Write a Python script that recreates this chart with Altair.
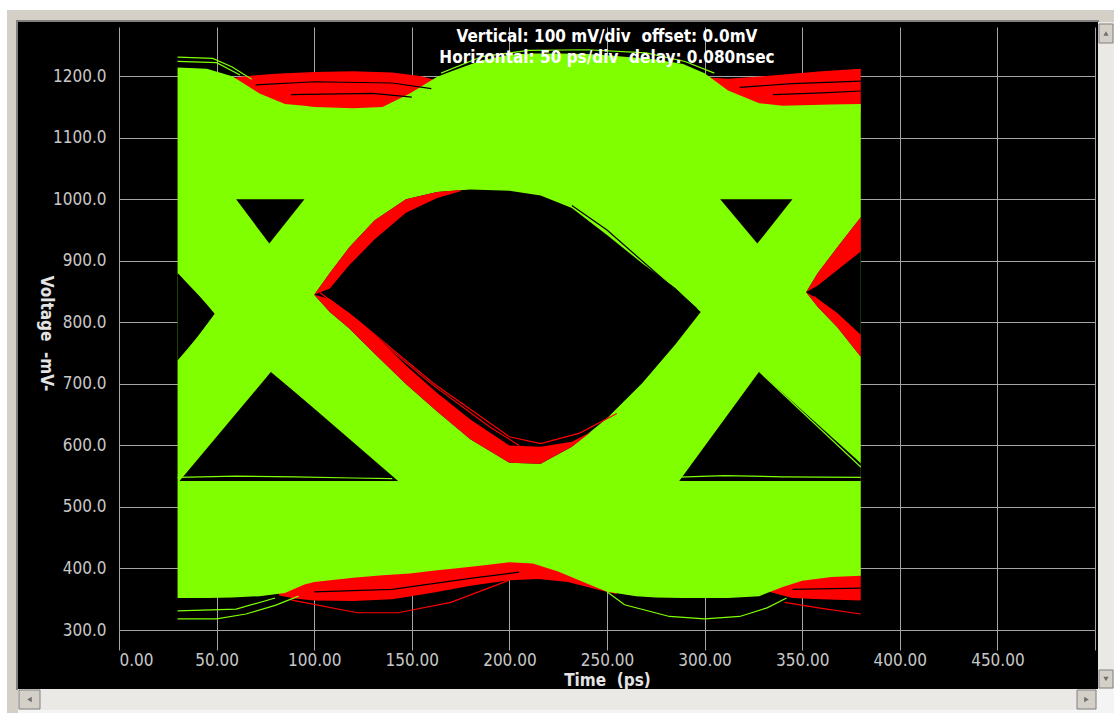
import altair as alt
import pandas as pd

# ---------------------------------------------------------------- scales
X_DOMAIN = [0, 500]
Y_DOMAIN = [300, 1280]
X_TICKS = list(range(0, 501, 50))
Y_TICKS = list(range(300, 1201, 100))

PLOT_W, PLOT_H = 976, 603
ORIGIN_X, ORIGIN_Y = 119, 27          # top-left corner of the plot area on the canvas

GREEN = "#80ff00"
RED = "#ff0000"
BLACK = "#000000"
GRID = "#a4a4a4"
LABEL = "#c8c8c8"
FONT = "Liberation Sans Narrow, DejaVu Sans Condensed, sans-serif"
NB = "\u00a0"                          # keeps double spaces from collapsing

# ---------------------------------------------------------------- eye data (ps, mV)
# envelope covered by the bulk of the acquired traces
env_x   = [30, 45, 58, 72, 85, 95, 100, 120, 135, 149, 163, 172, 186, 200, 212, 225,
           240, 250, 265, 275, 289, 300, 312, 328, 340, 350, 365, 380]
env_top = [1214, 1212, 1200, 1172, 1155, 1152, 1150, 1148, 1150, 1172, 1199, 1210, 1226,
           1235, 1237, 1237, 1236, 1234, 1230, 1227, 1220, 1205, 1177, 1156, 1152, 1153,
           1154, 1155]
env_bot = [352, 352, 353, 355, 360, 374, 378, 385, 389, 392, 397, 400, 405, 410, 408, 395,
           375, 362, 355, 353, 352, 352, 352, 355, 370, 380, 386, 388]

# failing traces that overshoot the one level / undershoot the zero level
red_tl_x = [55, 65, 80, 100, 120, 140, 155, 168]
red_tl_y = [1196, 1200, 1204, 1207, 1208, 1206, 1200, 1188]
red_tr_x = [302, 312, 330, 345, 360, 380]
red_tr_y = [1198, 1196, 1200, 1204, 1208, 1212]
red_bl_x = [82, 90, 100, 120, 140, 160, 180, 200, 215, 230, 245, 255]
red_bl_y = [356, 351, 348, 347, 350, 360, 372, 381, 383, 378, 366, 358]
red_br_x = [333, 345, 360, 380]
red_br_y = [362, 352, 350, 348]

# eye openings
main_x   = [100, 108, 118, 131, 147, 163, 180, 200, 216, 232, 250, 268, 285, 298]
main_top = [845, 880, 922, 966, 1000, 1012, 1016, 1014, 1006, 986, 942, 896, 856, 817]
main_bot = [845, 817, 790, 749, 700, 655, 610, 572, 570, 598, 644, 701, 764, 817]

left_x   = [30, 40, 49]
left_top = [880, 848, 814]
left_bot = [738, 775, 814]

right_x   = [352, 358, 368, 380]
right_top = [849, 880, 922, 971]
right_bot = [849, 825, 792, 744]

tri_hi_l_x = [60, 77, 95]
tri_hi_r_x = [308, 327, 345]
tri_hi_top = [1000, 1000, 1000]
tri_hi_bot = [1000, 928, 1000]

tri_lo_l_x = [31, 78, 143]
tri_lo_r_x = [287, 328, 380]
tri_lo_l_top = [542, 720, 542]
tri_lo_r_top = [542, 720, 571]

# red edge bands inside the openings
band_ul_x  = [100, 108, 118, 131, 147, 163, 175]
band_ul_hi = [845, 880, 922, 966, 1000, 1012, 1015]
band_ul_lo = [845, 855, 893, 935, 978, 1002, 1013]

band_ll_x  = [100, 108, 118, 131, 147, 163, 180, 200, 216, 232, 242]
band_ll_lo = [845, 817, 790, 749, 700, 655, 610, 572, 570, 598, 622]
band_ll_hi = [845, 838, 815, 780, 730, 685, 642, 600, 598, 606, 622]

band_ru_x  = [352, 358, 368, 380]
band_ru_hi = [849, 880, 922, 971]
band_ru_lo = [849, 860, 885, 915]
band_rl_x  = [352, 358, 368, 380]
band_rl_lo = [849, 825, 792, 744]
band_rl_hi = [849, 838, 815, 780]

# individual traces
red_traces = {
    "r1": ([103, 122, 161, 200, 216, 236, 255], [848, 804, 701, 614, 603, 620, 652]),
    "r2": ([88, 122, 143, 170, 200], [349, 328, 328, 345, 381]),
    "r3": ([341, 360, 380], [345, 335, 326]),
    "r4": ([108, 130, 160, 190, 205], [832, 780, 700, 630, 600]),
    "r5": ([356, 368, 380], [842, 812, 770]),
}
green_traces = {
    "g1": ([30, 48, 58, 68], [1231, 1229, 1215, 1195]),
    "g2": ([30, 50, 62], [1224, 1222, 1202]),
    "g3": ([165, 186, 210, 240, 270, 290, 305], [1205, 1232, 1242, 1243, 1238, 1224, 1205]),
    "g4": ([30, 50, 65, 80, 92], [318, 318, 326, 340, 355]),
    "g5": ([30, 60, 80], [331, 334, 352]),
    "g6": ([250, 259, 282, 300, 318, 332, 342], [362, 341, 322, 318, 322, 336, 352]),
    "g7": ([150, 170, 190, 216, 232], [1018, 1021, 1022, 1014, 994]),
    "g8": ([78, 143], [720, 549]),
    "g9": ([328, 380], [720, 565]),
    "g10": ([30, 60, 90, 120, 140], [548, 550, 549, 547, 546]),
    "g11": ([283, 310, 340, 380], [548, 551, 549, 548]),
    "g12": ([58, 77, 97], [1004, 1006, 1004]),
    "g13": ([306, 327, 347], [1004, 1006, 1004]),
    "g14": ([33, 49], [872, 818]),
    "g15": ([33, 49], [746, 810]),
}
black_traces = {
    "k1": ([70, 100, 140, 160], [1186, 1191, 1189, 1180]),
    "k2": ([88, 130, 150], [1170, 1172, 1166]),
    "k3": ([318, 345, 380], [1182, 1188, 1192]),
    "k4": ([335, 360, 380], [1170, 1173, 1176]),
    "k5": ([100, 140, 180, 205], [362, 366, 384, 394]),
    "k6": ([345, 380], [366, 368]),
    "k7": ([36, 78], [552, 717]),
    "k8": ([78, 138], [716, 552]),
    "k9": ([290, 328], [552, 716]),
    "k10": ([328, 378], [716, 575]),
    "k11": ([64, 77, 91], [995, 936, 995]),
    "k12": ([312, 327, 341], [995, 936, 995]),
    "k13": ([296, 250, 232], [822, 950, 990]),
    "k14": ([30, 47], [876, 819]),
}

# ---------------------------------------------------------------- helpers
def band_frame(parts):
    rows = []
    for name, xs, los, his in parts:
        for x, lo, hi in zip(xs, los, his):
            rows.append({"part": name, "x": x, "lo": lo, "hi": hi})
    return pd.DataFrame(rows)


def trace_frame(traces):
    rows = []
    for name, (xs, ys) in traces.items():
        for i, (x, y) in enumerate(zip(xs, ys)):
            rows.append({"trace": name, "i": i, "x": x, "y": y})
    return pd.DataFrame(rows)


x_enc = alt.X("x:Q", scale=alt.Scale(domain=X_DOMAIN, nice=False, zero=False),
              axis=alt.Axis(values=X_TICKS, grid=True, gridColor=GRID, gridWidth=1,
                            tickColor=GRID, tickSize=20, tickWidth=1, domain=False,
                            labelExpr="datum.value >= 500 ? '' : format(datum.value, '.2f')",
                            labelColor=LABEL, labelFont=FONT, labelFontSize=17,
                            labelPadding=2, title=f"Time {NB}(ps)", titleColor="#e4e4e4",
                            titleFont=FONT, titleFontSize=17, titleFontWeight="bold",
                            titleX=PLOT_W / 2, titleY=50, titleBaseline="middle"))
y_scale = alt.Scale(domain=Y_DOMAIN, nice=False, zero=False)
y_axis = alt.Axis(values=Y_TICKS, grid=True, gridColor=GRID, gridWidth=1, ticks=False,
                  domain=False, format=".1f", labelColor=LABEL, labelFont=FONT,
                  labelFontSize=17, labelPadding=13, title=f"Voltage {NB}-mV-",
                  titleColor="#e4e4e4", titleFont=FONT, titleFontSize=17,
                  titleFontWeight="bold", titleAngle=90, titleX=-74, titleY=306,
                  titleAlign="center", titleBaseline="middle")


def area_layer(df, color, with_axes=False):
    enc_x = x_enc if with_axes else alt.X("x:Q")
    enc_y = alt.Y("lo:Q", scale=y_scale, axis=y_axis) if with_axes else alt.Y("lo:Q")
    return alt.Chart(df).mark_area(color=color, opacity=1, orient="vertical",
                                   interpolate="linear").encode(
        x=enc_x, y=enc_y, y2="hi:Q", detail="part:N")


def line_layer(df, color, width=1.0):
    return alt.Chart(df).mark_line(color=color, strokeWidth=width).encode(
        x="x:Q", y="y:Q", detail="trace:N", order="i:Q")


red_outer = band_frame([
    ("tl", red_tl_x, [1140] * len(red_tl_x), red_tl_y),
    ("tr", red_tr_x, [1140] * len(red_tr_x), red_tr_y),
    ("bl", red_bl_x, red_bl_y, [420] * len(red_bl_x)),
    ("br", red_br_x, red_br_y, [400] * len(red_br_x)),
])
green_env = band_frame([("env", env_x, env_bot, env_top)])
holes = band_frame([
    ("main", main_x, main_bot, main_top),
    ("left", left_x, left_bot, left_top),
    ("right", right_x, right_bot, right_top),
    ("thl", tri_hi_l_x, tri_hi_bot, tri_hi_top),
    ("thr", tri_hi_r_x, tri_hi_bot, tri_hi_top),
    ("tll", tri_lo_l_x, [542] * 3, tri_lo_l_top),
    ("tlr", tri_lo_r_x, [542] * 3, tri_lo_r_top),
])
red_inner = band_frame([
    ("ul", band_ul_x, band_ul_lo, band_ul_hi),
    ("ll", band_ll_x, band_ll_lo, band_ll_hi),
    ("ru", band_ru_x, band_ru_lo, band_ru_hi),
    ("rl", band_rl_x, band_rl_lo, band_rl_hi),
])

layers = [
    area_layer(red_outer, RED, with_axes=True),
    area_layer(green_env, GREEN),
    area_layer(holes, BLACK),
    area_layer(red_inner, RED),
    line_layer(trace_frame(black_traces), BLACK, 1.2),
    line_layer(trace_frame(red_traces), RED, 1.2),
    line_layer(trace_frame(green_traces), GREEN, 1.2),
]

# ---------------------------------------------------------------- header text
one = pd.DataFrame({"k": [0]})
header = [(f"Vertical: 100 mV/div {NB}offset: 0.0mV", 37),
          (f"Horizontal: 50 ps/div {NB}delay: 0.080nsec", 58)]
for text, cy in header:
    layers.append(alt.Chart(one).mark_text(
        text=text, color="#ffffff", font=FONT, fontSize=17, fontWeight="bold",
        align="center", baseline="middle").encode(
        x=alt.value(607 - ORIGIN_X), y=alt.value(cy - ORIGIN_Y)))

# ---------------------------------------------------------------- window chrome (canvas px)
chrome = [
    (0, 0, 1114, 10, "#ffffff", None),
    (0, 0, 7, 713, "#ffffff", None),
    (7, 10, 1114, 22, "#d4d0c8", None),
    (7, 10, 18, 713, "#d4d0c8", None),
    (16, 20, 1099, 22, "#808080", None),
    (16, 20, 18, 690, "#808080", None),
    (18, 689, 1097, 710, "#ebe9e5", None),
    (18, 710, 1114, 713, "#f4f4f4", None),
    (1098, 22, 1114, 689, "#ebe9e5", None),
    (1097, 689, 1114, 713, "#f4f4f4", None),
    (19, 690, 40, 709, "#d4d0c8", "#808080"),
    (1077, 690, 1096, 709, "#d4d0c8", "#808080"),
    (1099, 24, 1113, 43, "#d4d0c8", "#808080"),
    (1099, 670, 1113, 688, "#d4d0c8", "#808080"),
]
for x0, y0, x1, y1, fill, stroke in chrome:
    kw = {"color": fill}
    if stroke:
        kw["stroke"] = stroke
        kw["strokeWidth"] = 1
    layers.append(alt.Chart(one).mark_rect(**kw).encode(
        x=alt.value(x0 - ORIGIN_X), x2=alt.value(x1 - ORIGIN_X),
        y=alt.value(y0 - ORIGIN_Y), y2=alt.value(y1 - ORIGIN_Y)))

arrows = [(29.5, 699.5, "triangle-left"), (1086.5, 699.5, "triangle-right"),
          (1106, 33.5, "triangle-up"), (1106, 679, "triangle-down")]
for ax_, ay_, shape in arrows:
    layers.append(alt.Chart(one).mark_point(shape=shape, filled=True, size=28,
                                            color="#707070", opacity=1).encode(
        x=alt.value(ax_ - ORIGIN_X), y=alt.value(ay_ - ORIGIN_Y)))

chart = alt.layer(*layers).properties(
    width=PLOT_W, height=PLOT_H,
    autosize=alt.AutoSizeParams(type="none"),
    padding={"left": ORIGIN_X, "top": ORIGIN_Y, "right": 1114 - ORIGIN_X - PLOT_W,
             "bottom": 713 - ORIGIN_Y - PLOT_H},
    background=BLACK,
).configure_view(stroke=None)

chart.save("out.html", embed_options={"renderer": "svg", "actions": False})
